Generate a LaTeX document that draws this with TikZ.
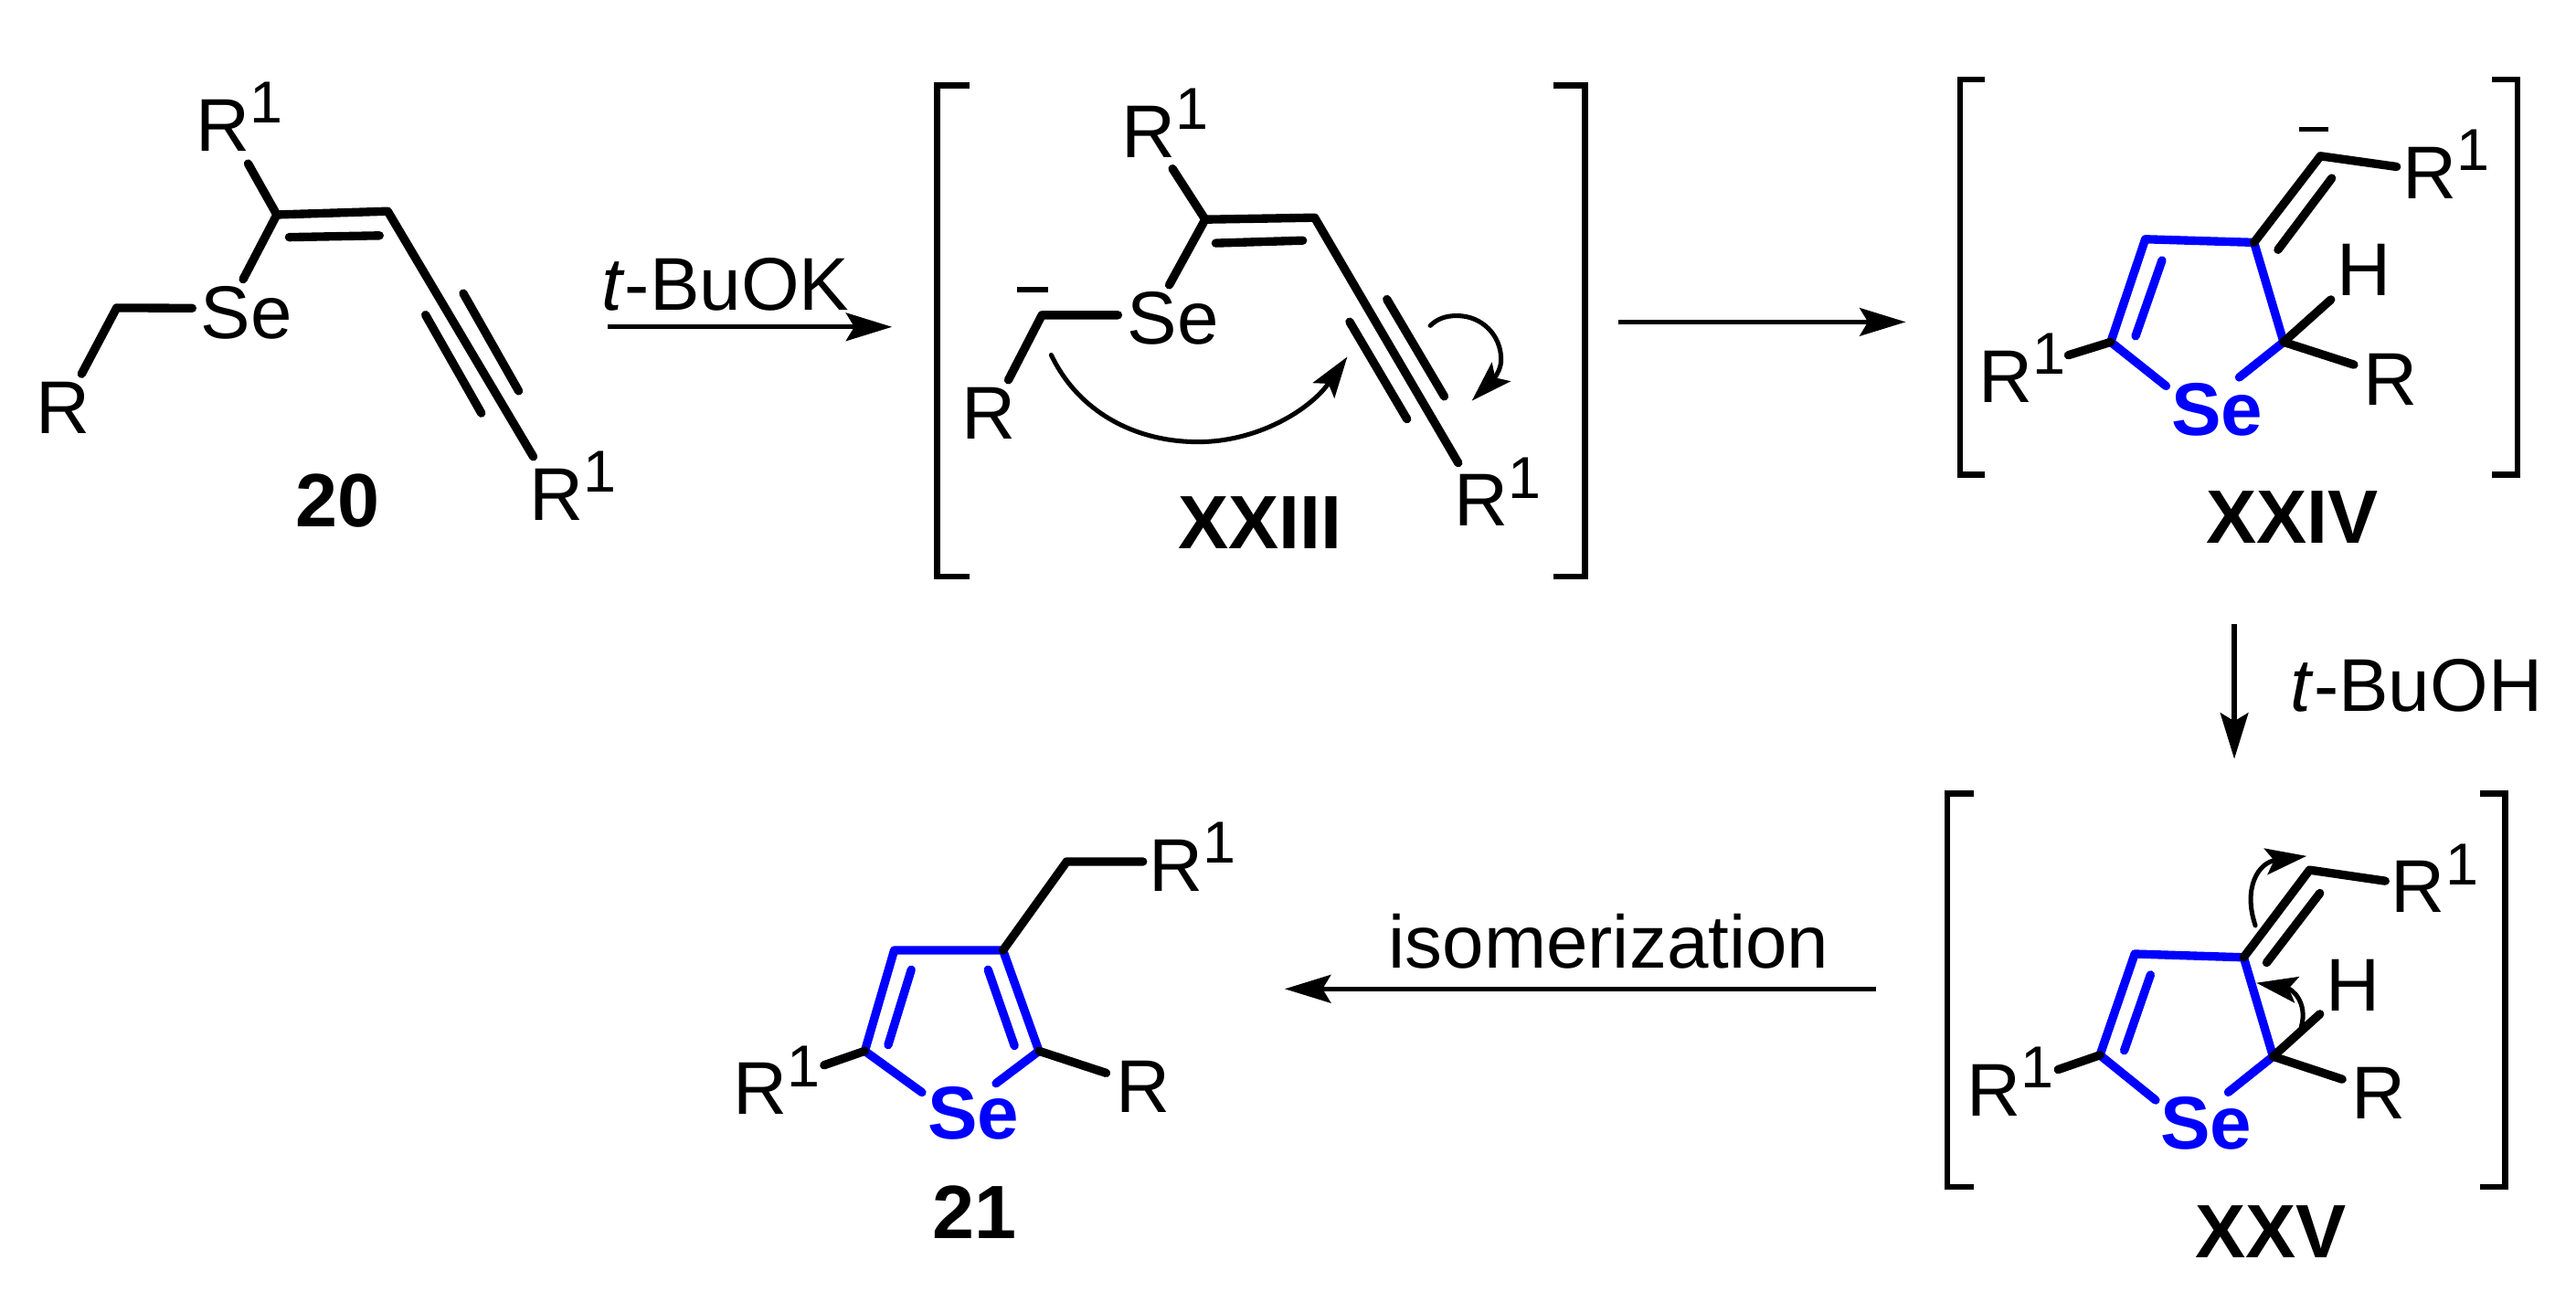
\documentclass[tikz,border=0pt]{standalone}
\usepackage{fontspec}
\setmainfont{Liberation Sans}
\usetikzlibrary{arrows.meta}
\definecolor{ringblue}{RGB}{0,0,255}
\newcommand{\Rone}{R\raisebox{17pt}{\fontsize{36}{36}\selectfont 1}}
\tikzset{
  bond/.style={line width=5.2pt,line cap=round,line join=round,black},
  ring/.style={line width=5.2pt,line cap=round,line join=round,ringblue},
  brack/.style={line width=3.6pt,line cap=butt,line join=miter,black},
  charge/.style={line width=3pt,black},
  rxn/.style={line width=3pt,-{Stealth[length=28pt,width=17pt,inset=5pt]}},
  push/.style={line width=2.8pt,line cap=round,-{Stealth[length=25pt,width=16pt,inset=5pt]}},
  lbl/.style={anchor=base west,inner sep=0pt,font=\fontsize{45.5}{45.5}\selectfont},
  cmpd/.style={anchor=base west,inner sep=0pt,font=\fontsize{46}{46}\selectfont\bfseries},
  se/.style={anchor=base west,inner sep=0pt,text=ringblue,font=\fontsize{45.5}{45.5}\selectfont\bfseries}
}
\begin{document}
\begin{tikzpicture}[x=1pt,y=-1pt]
\useasboundingbox (0,0) rectangle (1568,798.8);
% ---------- compound 20
\coordinate (a1) at (168.5,130.7);
\coordinate (a2) at (236,128.6);
\coordinate (a3) at (151,99.6);
\coordinate (a4) at (148,170);
\coordinate (a5) at (71,187.4);
\coordinate (a6) at (117,187.6);
\coordinate (a7) at (49.7,227.6);
\coordinate (a8) at (324.6,278);
\coordinate (a9) at (176,144.4);
\coordinate (a10) at (231,143.4);
\coordinate (a11) at (282,178.6);
\coordinate (a12) at (315.7,238);
\coordinate (a13) at (259,191.7);
\coordinate (a14) at (293,251.5);
\draw[bond] (a3) -- (a1) -- (a2) -- (a8);
\draw[bond] (a4) -- (a1);
\draw[bond] (a6) -- (a5) -- (a7);
\draw[bond] (a9) -- (a10);
\draw[bond] (a11) -- (a12);
\draw[bond] (a13) -- (a14);
\node[lbl] (l20a) at (119,92) {\Rone};
\node[lbl] (l20b) at (122,206) {Se};
\node[lbl] (l20c) at (22,264) {R};
\node[lbl] (l20d) at (322,316.5) {\Rone};
\node[cmpd] (n20) at (180,320.6) {20};
% ---------- reaction arrow 1
\node[lbl] (tbuok) at (366,189) {\textit{t}-BuOK};
\coordinate (r1s) at (370,199);
\coordinate (r1e) at (543,199);
\draw[rxn] (r1s) -- (r1e);
% ---------- XXIII
\coordinate (bL1a) at (590,52);
\coordinate (bL1b) at (570.4,52);
\coordinate (bL1c) at (570.4,351);
\coordinate (bL1d) at (590,351);
\coordinate (bR1a) at (945.5,52);
\coordinate (bR1b) at (964.8,52);
\coordinate (bR1c) at (964.8,351);
\coordinate (bR1d) at (945.5,351);
\draw[brack] (bL1a) -- (bL1b) -- (bL1c) -- (bL1d);
\draw[brack] (bR1a) -- (bR1b) -- (bR1c) -- (bR1d);
\coordinate (b1) at (733.6,133.6);
\coordinate (b2) at (800.2,132.5);
\coordinate (b3) at (713.7,102.7);
\coordinate (b4) at (711.7,173.5);
\coordinate (b5) at (634.2,191.8);
\coordinate (b6) at (680.5,191.8);
\coordinate (b7) at (613.8,231.3);
\coordinate (b8) at (887.6,281.8);
\coordinate (b9) at (740,148);
\coordinate (b10) at (793,146.4);
\coordinate (b11) at (844.2,182.2);
\coordinate (b12) at (879.1,241.3);
\coordinate (b13) at (821.5,195.9);
\coordinate (b14) at (856.4,255.1);
\draw[bond] (b3) -- (b1) -- (b2) -- (b8);
\draw[bond] (b4) -- (b1);
\draw[bond] (b6) -- (b5) -- (b7);
\draw[bond] (b9) -- (b10);
\draw[bond] (b11) -- (b12);
\draw[bond] (b13) -- (b14);
\coordinate (m1a) at (619.2,176.3);
\coordinate (m1b) at (638,176.3);
\draw[charge] (m1a) -- (m1b);
\node[lbl] (l23a) at (682.6,95.7) {\Rone};
\node[lbl] (l23b) at (686,209.3) {Se};
\node[lbl] (l23c) at (585.4,267.5) {R};
\node[lbl] (l23d) at (884.8,320.2) {\Rone};
\node[cmpd] (n23) at (717,334) {XXIII};
\coordinate (p1a) at (639.9,216.1);
\coordinate (p1b) at (729.3,269);
\coordinate (p1c) at (820.1,217.2);
\draw[push] (p1a) .. controls (656,250) and (690,269) .. (p1b) .. controls (765,269) and (797,250) .. (p1c);
\coordinate (p2a) at (870.6,198.2);
\coordinate (p2b) at (886.8,192.2);
\coordinate (p2c) at (913.7,218.9);
\coordinate (p2d) at (895.9,244);
\draw[push] (p2a) .. controls (875,194) and (880,192.2) .. (p2b) .. controls (902,192.2) and (913.7,204) .. (p2c) .. controls (913.7,228) and (905,235) .. (p2d);
% ---------- arrow 2
\coordinate (r2s) at (985,196);
\coordinate (r2e) at (1160,196);
\draw[rxn] (r2s) -- (r2e);
% ---------- XXIV
\coordinate (bL2a) at (1208.3,48.3);
\coordinate (bL2b) at (1193,48.3);
\coordinate (bL2c) at (1193,289);
\coordinate (bL2d) at (1208.3,289);
\coordinate (bR2a) at (1517,48.3);
\coordinate (bR2b) at (1532.3,48.3);
\coordinate (bR2c) at (1532.3,289);
\coordinate (bR2d) at (1517,289);
\draw[brack] (bL2a) -- (bL2b) -- (bL2c) -- (bL2d);
\draw[brack] (bR2a) -- (bR2b) -- (bR2c) -- (bR2d);
\coordinate (c1) at (1305.8,145.6);
\coordinate (c2) at (1372,147.6);
\coordinate (c3) at (1390,208.2);
\coordinate (c4) at (1284.8,208.2);
\coordinate (c5) at (1318.5,235);
\coordinate (c6) at (1363,229.7);
\coordinate (c7) at (1316,158.5);
\coordinate (c8) at (1299.9,204.6);
\coordinate (c9) at (1412.4,95);
\coordinate (c10) at (1419.3,108.5);
\coordinate (c11) at (1386.6,152);
\coordinate (c12) at (1458.8,101.5);
\coordinate (c13) at (1418.8,182.4);
\coordinate (c14) at (1432.8,222);
\coordinate (c15) at (1259,216.2);
\draw[ring] (c5) -- (c4) -- (c1) -- (c2) -- (c3) -- (c6);
\draw[ring] (c7) -- (c8);
\draw[bond] (c2) -- (c9) -- (c12);
\draw[bond] (c10) -- (c11);
\draw[bond] (c3) -- (c13);
\draw[bond] (c3) -- (c14);
\draw[bond] (c4) -- (c15);
\coordinate (m2a) at (1399.4,78.7);
\coordinate (m2b) at (1417.5,78.7);
\draw[charge] (m2a) -- (m2b);
\node[lbl] (l24a) at (1462.6,120.8) {\Rone};
\node[lbl] (l24b) at (1422.6,180) {H};
\node[lbl] (l24c) at (1438.3,246.6) {R};
\node[lbl] (l24d) at (1204.1,245) {\Rone};
\node[se] (l24e) at (1321.6,264.8) {Se};
\node[cmpd] (n24) at (1342.7,330.8) {XXIV};
% ---------- arrow 3
\coordinate (r3s) at (1360,380);
\coordinate (r3e) at (1360,462);
\draw[rxn] (r3s) -- (r3e);
\node[lbl] (tbuoh) at (1394,433) {\textit{t}-BuOH};
% ---------- XXV
\coordinate (bL3a) at (1201.2,483);
\coordinate (bL3b) at (1185.3,483);
\coordinate (bL3c) at (1185.3,722.6);
\coordinate (bL3d) at (1201.2,722.6);
\coordinate (bR3a) at (1509.8,483);
\coordinate (bR3b) at (1525,483);
\coordinate (bR3c) at (1525,722.6);
\coordinate (bR3d) at (1509.8,722.6);
\draw[brack] (bL3a) -- (bL3b) -- (bL3c) -- (bL3d);
\draw[brack] (bR3a) -- (bR3b) -- (bR3c) -- (bR3d);
\coordinate (d1) at (1299.4,580.7);
\coordinate (d2) at (1365.7,582.8);
\coordinate (d3) at (1383.6,643.1);
\coordinate (d4) at (1278.2,642.3);
\coordinate (d5) at (1312.1,669.7);
\coordinate (d6) at (1356.3,664.9);
\coordinate (d7) at (1309,593.4);
\coordinate (d8) at (1293,639.5);
\coordinate (d9) at (1405.8,529.6);
\coordinate (d10) at (1412.1,543.7);
\coordinate (d11) at (1379.7,586);
\coordinate (d12) at (1451.9,536.3);
\coordinate (d13) at (1412.1,617.3);
\coordinate (d14) at (1425.7,657);
\coordinate (d15) at (1252.7,651.1);
\draw[ring] (d5) -- (d4) -- (d1) -- (d2) -- (d3) -- (d6);
\draw[ring] (d7) -- (d8);
\draw[bond] (d2) -- (d9) -- (d12);
\draw[bond] (d10) -- (d11);
\draw[bond] (d3) -- (d13);
\draw[bond] (d3) -- (d14);
\draw[bond] (d4) -- (d15);
\node[lbl] (l25a) at (1455.4,555.6) {\Rone};
\node[lbl] (l25b) at (1415.9,615.2) {H};
\node[lbl] (l25c) at (1431.2,681.2) {R};
\node[lbl] (l25d) at (1197,679.2) {\Rone};
\node[se] (l25e) at (1314.7,699.3) {Se};
\node[cmpd] (n25) at (1335.9,765.7) {XXV};
\coordinate (p3a) at (1372.8,563.4);
\coordinate (p3b) at (1404,521.1);
\draw[push] (p3a) .. controls (1365,540) and (1375,525) .. (p3b);
\coordinate (p4a) at (1400.7,625.3);
\coordinate (p4b) at (1373.4,598.3);
\draw[push] (p4a) .. controls (1405,610) and (1395,602) .. (p4b);
% ---------- arrow 4
\coordinate (r4s) at (1142,602);
\coordinate (r4e) at (782,602);
\draw[rxn] (r4s) -- (r4e);
\node[lbl] (iso) at (845,589.5) {isomerization};
% ---------- 21
\coordinate (e1) at (544.3,578.5);
\coordinate (e2) at (610.5,578.5);
\coordinate (e3) at (632.4,639.8);
\coordinate (e4) at (526.4,639.8);
\coordinate (e5) at (561.2,665);
\coordinate (e6) at (606.3,659.5);
\coordinate (e7) at (554.7,590.3);
\coordinate (e8) at (540.6,636.1);
\coordinate (e9) at (601.4,590.3);
\coordinate (e10) at (617.5,636.6);
\coordinate (e11) at (649.3,524.5);
\coordinate (e12) at (695.7,524.5);
\coordinate (e13) at (673.3,653.2);
\coordinate (e14) at (501.6,648.4);
\draw[ring] (e5) -- (e4) -- (e1) -- (e2) -- (e3) -- (e6);
\draw[ring] (e7) -- (e8);
\draw[ring] (e9) -- (e10);
\draw[bond] (e2) -- (e11) -- (e12);
\draw[bond] (e3) -- (e13);
\draw[bond] (e4) -- (e14);
\node[lbl] (l21a) at (699,542.4) {\Rone};
\node[lbl] (l21b) at (679.3,677.2) {R};
\node[lbl] (l21c) at (446.1,678.5) {\Rone};
\node[se] (l21d) at (564.6,693.3) {Se};
\node[cmpd] (n21) at (567.5,754.2) {21};
\end{tikzpicture}
\end{document}
